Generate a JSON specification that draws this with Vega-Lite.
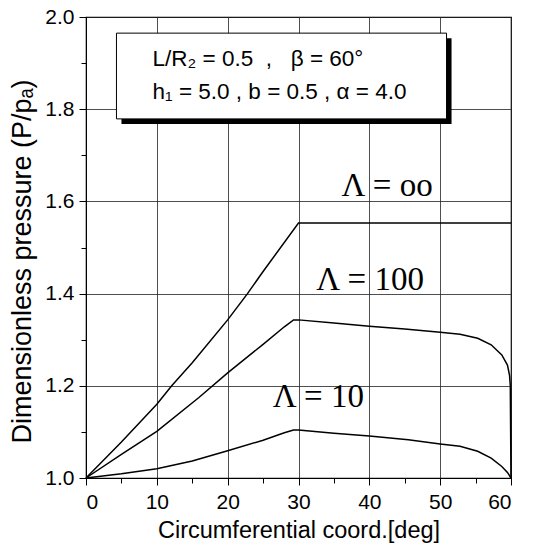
{
  "$schema": "https://vega.github.io/schema/vega-lite/v6.json",
  "width": 425,
  "height": 461,
  "autosize": {"type": "none"},
  "padding": {"left": 86, "top": 17, "right": 24, "bottom": 73},
  "background": "white",
  "config": {
    "view": {"stroke": "black", "strokeWidth": 1.2},
    "font": "Liberation Sans",
    "axis": {
      "labelFont": "Liberation Sans",
      "titleFont": "Liberation Sans",
      "labelColor": "black",
      "titleColor": "black",
      "domainColor": "black",
      "tickColor": "black",
      "titleFontWeight": "normal",
      "labelFontSize": 21,
      "titleFontSize": 23.5
    }
  },
  "datasets": {
    "box": [{"x1": 4.3, "x2": 50.9, "p1": 1.965, "p2": 1.779}],
    "note": [
      {"x": 9.4, "p": 1.893, "text": "L/R₂ = 0.5 \u00a0, \u00a0\u00a0β = 60°"},
      {"x": 9.4, "p": 1.822, "text": "h₁ = 5.0 , b = 0.5 , α = 4.0"}
    ],
    "labels": [
      {"x": 42.5, "p": 1.611, "text": "Λ = oo"},
      {"x": 40.1, "p": 1.408, "text": "Λ = 100"},
      {"x": 32.8, "p": 1.153, "text": "Λ = 10"}
    ],
    "curves": [
      {"lambda": "oo", "x": 0, "p": 1.0},
      {"lambda": "oo", "x": 5, "p": 1.078},
      {"lambda": "oo", "x": 10, "p": 1.16},
      {"lambda": "oo", "x": 12.1, "p": 1.2},
      {"lambda": "oo", "x": 15, "p": 1.25},
      {"lambda": "oo", "x": 20, "p": 1.343},
      {"lambda": "oo", "x": 22.8, "p": 1.4},
      {"lambda": "oo", "x": 25, "p": 1.448},
      {"lambda": "oo", "x": 30, "p": 1.553},
      {"lambda": "oo", "x": 40, "p": 1.553},
      {"lambda": "oo", "x": 50, "p": 1.553},
      {"lambda": "oo", "x": 60, "p": 1.553},
      {"lambda": "100", "x": 0, "p": 1.0},
      {"lambda": "100", "x": 5, "p": 1.051},
      {"lambda": "100", "x": 10, "p": 1.101},
      {"lambda": "100", "x": 15.9, "p": 1.174},
      {"lambda": "100", "x": 20, "p": 1.228},
      {"lambda": "100", "x": 25, "p": 1.29},
      {"lambda": "100", "x": 28, "p": 1.328},
      {"lambda": "100", "x": 29.3, "p": 1.343},
      {"lambda": "100", "x": 30, "p": 1.343},
      {"lambda": "100", "x": 35, "p": 1.336},
      {"lambda": "100", "x": 40, "p": 1.329},
      {"lambda": "100", "x": 45, "p": 1.323},
      {"lambda": "100", "x": 50, "p": 1.316},
      {"lambda": "100", "x": 52.8, "p": 1.312},
      {"lambda": "100", "x": 55.3, "p": 1.303},
      {"lambda": "100", "x": 57.2, "p": 1.289},
      {"lambda": "100", "x": 58.7, "p": 1.267},
      {"lambda": "100", "x": 59.5, "p": 1.245},
      {"lambda": "100", "x": 59.8, "p": 1.222},
      {"lambda": "100", "x": 59.9, "p": 1.2},
      {"lambda": "100", "x": 60, "p": 1.0},
      {"lambda": "10", "x": 0, "p": 1.0},
      {"lambda": "10", "x": 5, "p": 1.009},
      {"lambda": "10", "x": 10, "p": 1.02},
      {"lambda": "10", "x": 15, "p": 1.037},
      {"lambda": "10", "x": 20, "p": 1.059},
      {"lambda": "10", "x": 25, "p": 1.082},
      {"lambda": "10", "x": 28, "p": 1.098},
      {"lambda": "10", "x": 29.3, "p": 1.104},
      {"lambda": "10", "x": 30, "p": 1.104},
      {"lambda": "10", "x": 35, "p": 1.097},
      {"lambda": "10", "x": 40, "p": 1.091},
      {"lambda": "10", "x": 45.5, "p": 1.083},
      {"lambda": "10", "x": 50, "p": 1.074},
      {"lambda": "10", "x": 52.8, "p": 1.069},
      {"lambda": "10", "x": 55.3, "p": 1.058},
      {"lambda": "10", "x": 57.2, "p": 1.043},
      {"lambda": "10", "x": 58.7, "p": 1.025},
      {"lambda": "10", "x": 59.5, "p": 1.012},
      {"lambda": "10", "x": 60, "p": 1.0}
    ]
  },
  "layer": [
    {
      "data": {"name": "box"},
      "mark": {"type": "rect", "fill": "black", "xOffset": 5, "x2Offset": 5, "yOffset": 5, "y2Offset": 5},
      "encoding": {
        "x": {"field": "x1", "type": "quantitative", "scale": {"domain": [0, 60], "nice": false, "zero": false},
          "axis": {"orient": "bottom", "values": [5, 15, 25, 35, 45, 55], "labels": false, "grid": false, "domain": false, "tickSize": 5, "title": null}},
        "x2": {"field": "x2"},
        "y": {"field": "p1", "type": "quantitative", "scale": {"domain": [1, 2], "nice": false, "zero": false},
          "axis": {"orient": "left", "values": [1.1, 1.3, 1.5, 1.7, 1.9], "labels": false, "grid": false, "domain": false, "tickSize": 5, "title": null}},
        "y2": {"field": "p2"}
      }
    },
    {
      "data": {"name": "box"},
      "mark": {"type": "rect", "fill": "white", "stroke": "black", "strokeWidth": 1},
      "encoding": {
        "x": {"field": "x1", "type": "quantitative", "scale": {"domain": [0, 60]}, "axis": null},
        "x2": {"field": "x2"},
        "y": {"field": "p1", "type": "quantitative", "scale": {"domain": [1, 2]}, "axis": null},
        "y2": {"field": "p2"}
      }
    },
    {
      "data": {"name": "note"},
      "mark": {"type": "text", "align": "left", "baseline": "alphabetic", "font": "Liberation Sans", "fontSize": 22.5, "color": "black"},
      "encoding": {
        "x": {"field": "x", "type": "quantitative", "scale": {"domain": [0, 60]}, "axis": null},
        "y": {"field": "p", "type": "quantitative", "scale": {"domain": [1, 2]}, "axis": null},
        "text": {"field": "text"}
      }
    },
    {
      "data": {"name": "curves"},
      "mark": {"type": "line", "color": "black", "strokeWidth": 1.5},
      "encoding": {
        "x": {"field": "x", "type": "quantitative", "scale": {"domain": [0, 60], "nice": false, "zero": false},
          "axis": {"orient": "bottom", "values": [0, 10, 20, 30, 40, 50, 60], "grid": true, "gridColor": "#222", "gridWidth": 0.8, "gridOpacity": 1, "tickSize": 7, "labelPadding": 6, "title": "Circumferential coord.[deg]", "titlePadding": 6}},
        "y": {"field": "p", "type": "quantitative", "scale": {"domain": [1, 2], "nice": false, "zero": false},
          "axis": {"orient": "left", "values": [1.0, 1.2, 1.4, 1.6, 1.8, 2.0], "format": ".1f", "grid": true, "gridColor": "#222", "gridWidth": 0.8, "gridOpacity": 1, "tickSize": 7, "labelPadding": 5, "title": "Dimensionless pressure (P/pₐ)", "titleFontSize": 27, "titlePadding": 8, "titleY": 244}},
        "detail": {"field": "lambda", "type": "nominal"}
      }
    },
    {
      "data": {"name": "labels"},
      "mark": {"type": "text", "align": "center", "baseline": "alphabetic", "font": "Liberation Serif", "fontSize": 33, "color": "black"},
      "encoding": {
        "x": {"field": "x", "type": "quantitative", "scale": {"domain": [0, 60]}, "axis": null},
        "y": {"field": "p", "type": "quantitative", "scale": {"domain": [1, 2]}, "axis": null},
        "text": {"field": "text"}
      }
    }
  ],
  "resolve": {"axis": {"x": "independent", "y": "independent"}}
}
